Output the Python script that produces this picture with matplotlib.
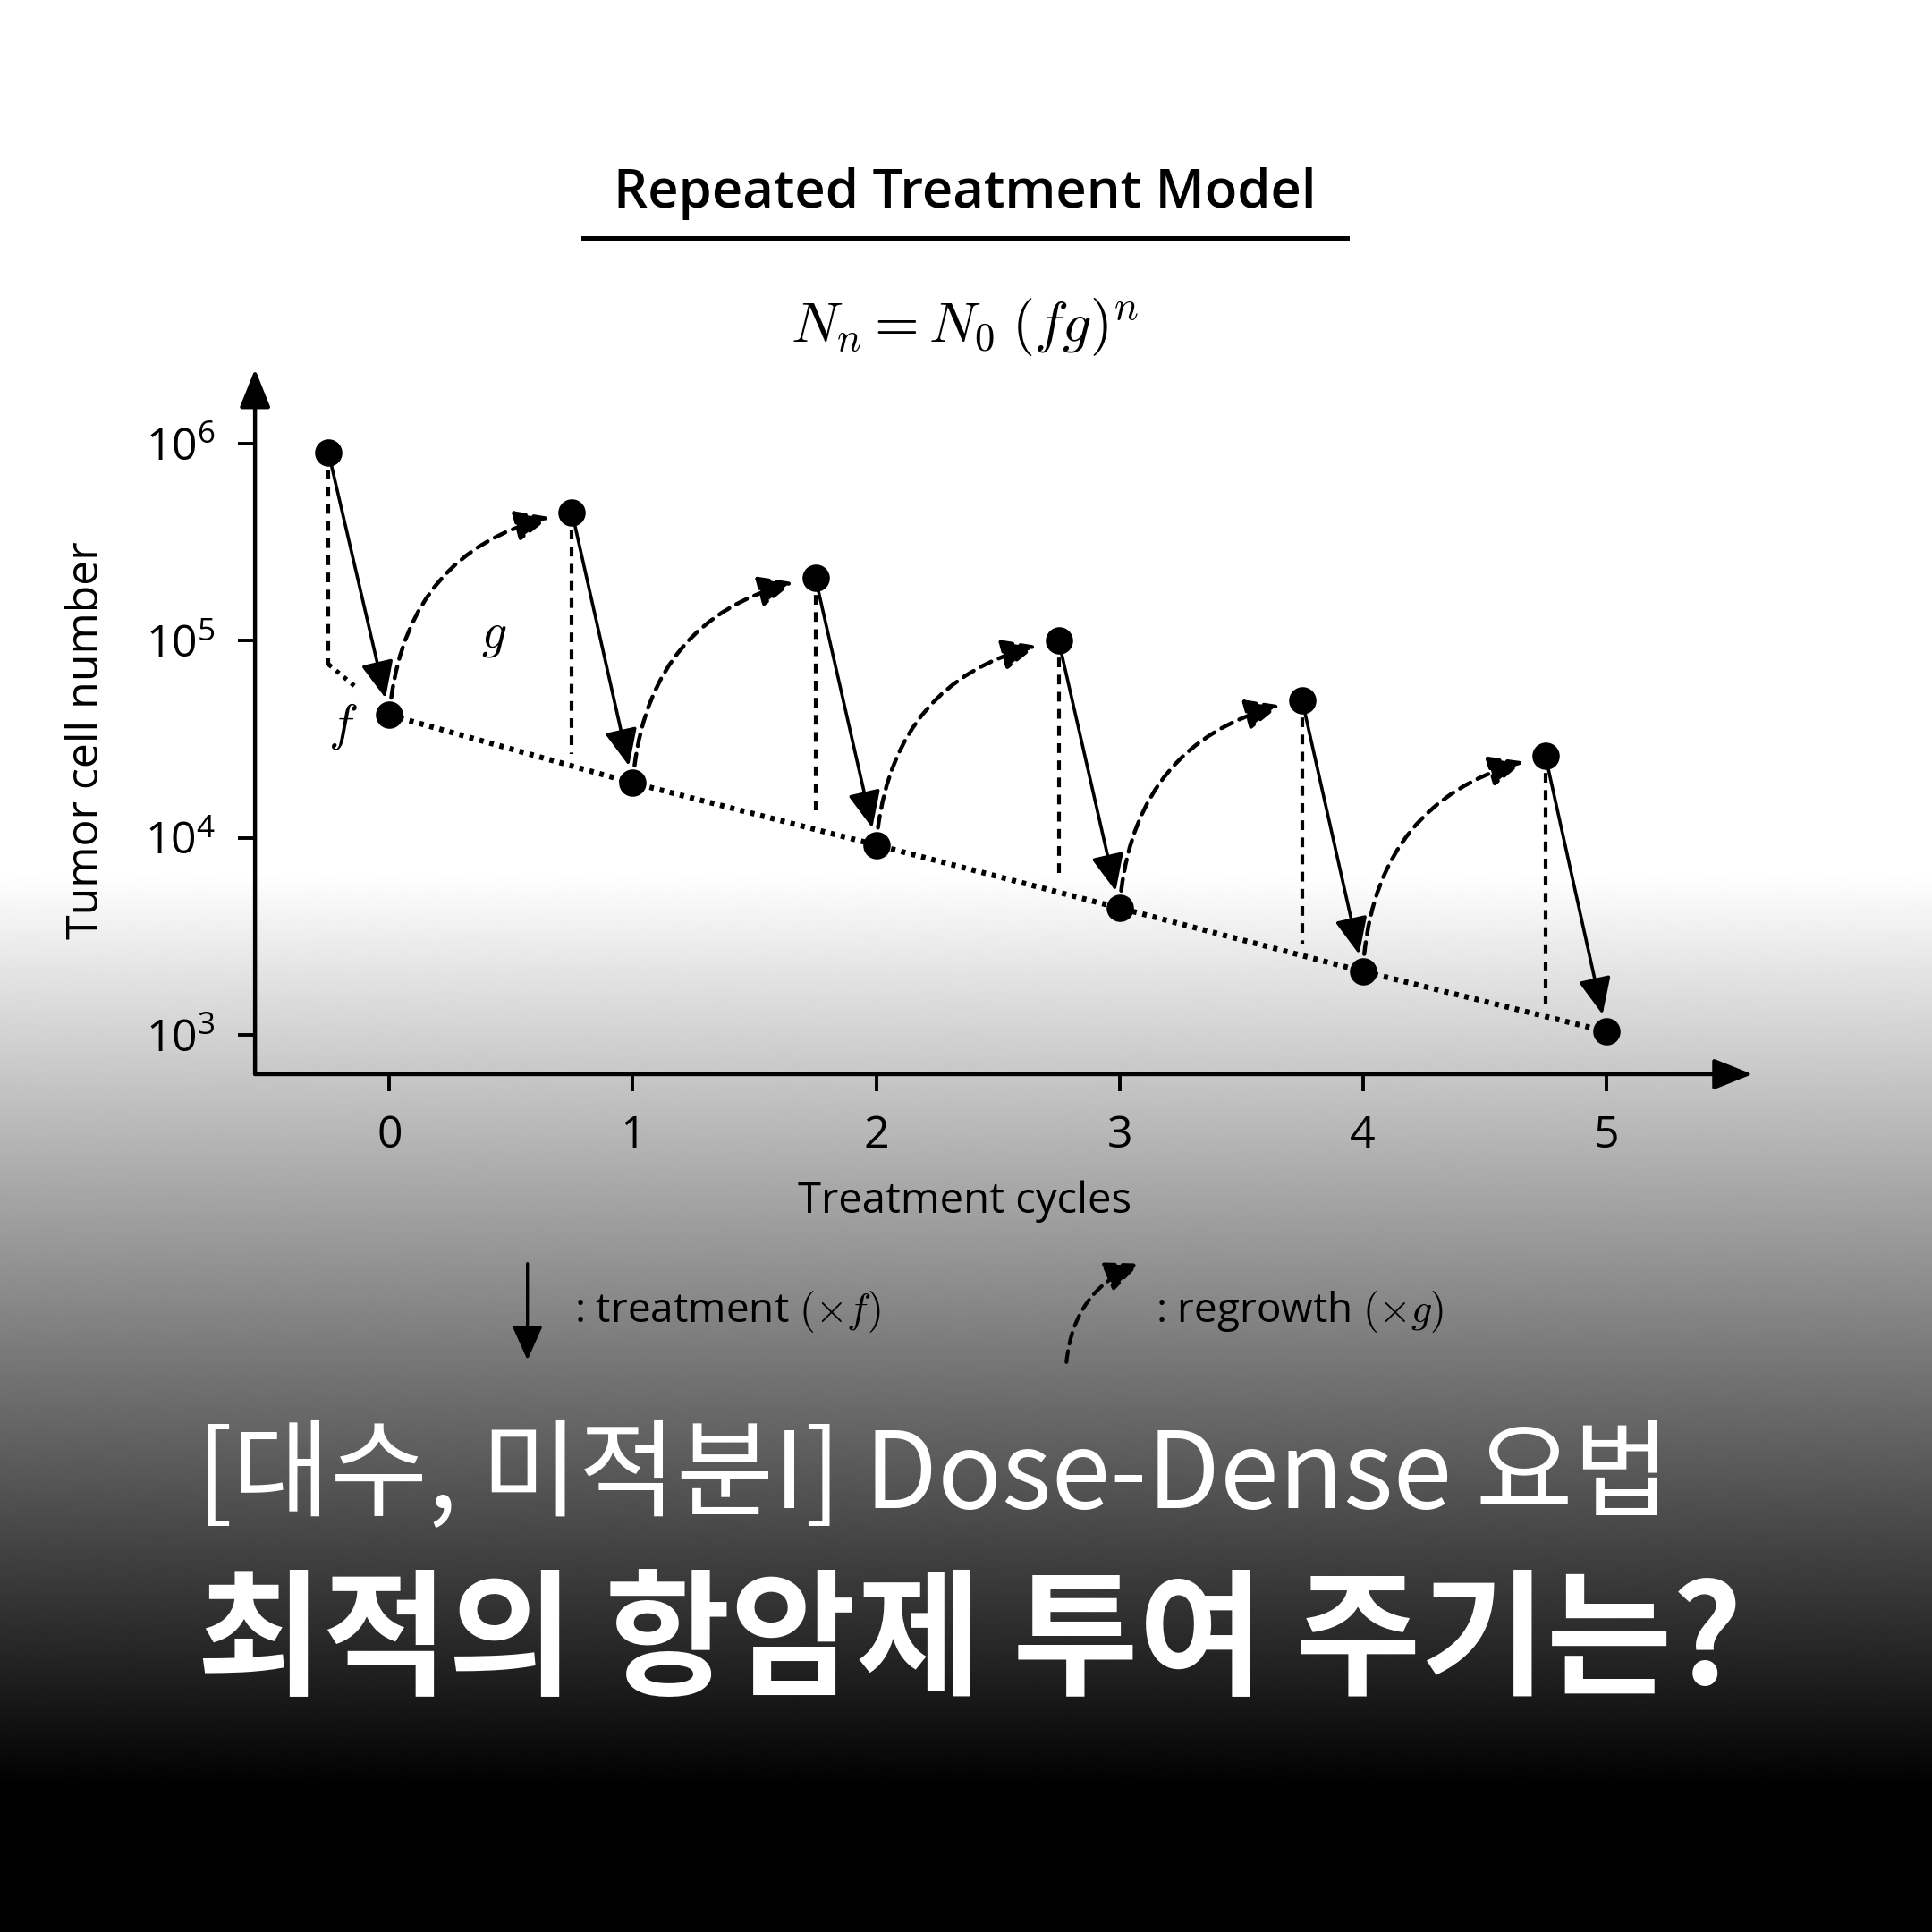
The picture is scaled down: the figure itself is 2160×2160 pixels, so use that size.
import numpy as np
import matplotlib.pyplot as plt
from matplotlib.lines import Line2D
from matplotlib.patches import FancyArrowPatch
from matplotlib.ticker import NullLocator

plt.rcParams['font.family'] = ['Open Sans', 'Noto Sans CJK KR', 'DejaVu Sans']
plt.rcParams['mathtext.fontset'] = 'cm'

# data
cycles = [0, 1, 2, 3, 4, 5]
after_treat = [4.2e4, 1.9e4, 9.2e3, 4.4e3, 2.1e3, 1.04e3]
regrow_x = [-0.25, 0.75, 1.75, 2.75, 3.75, 4.75]
before_treat = [9.0e5, 4.5e5, 2.1e5, 1.0e5, 5.0e4, 2.6e4]
first_drop_end = 7.6e4

y_ticks = [1e3, 1e4, 1e5, 1e6]
y_ticklabels = [r'$\mathregular{10^3}$', r'$\mathregular{10^4}$',
                r'$\mathregular{10^5}$', r'$\mathregular{10^6}$']
x_ticklabels = ['0', '1', '2', '3', '4', '5']

title = 'Repeated Treatment Model'
formula = r'$N_n = N_0\;(fg)^n$'
line1 = '[대수, 미적분I] Dose-Dense 요법'
line2 = '최적의 항암제 투여 주기는?'

fig = plt.figure(figsize=(10.8, 10.8), dpi=200)

# white -> black background
bg = fig.add_axes([0, 0, 1, 1], zorder=-5)
rows = np.arange(2160)
shade = np.clip(1 - (rows - 978) / (2000 - 978), 0, 1)
bg.imshow(shade[:, None], cmap='gray', vmin=0, vmax=1, aspect='auto',
          extent=[0, 1, 0, 1], interpolation='bilinear')
bg.axis('off')

ax = fig.add_axes([0.132, 0.444, 0.775, 0.365])
ax.set_facecolor('none')
ax.set_yscale('log')
ax.set_xlim(-0.552, 5.6)
ax.set_ylim(10 ** 2.8, 10 ** 6.38)
for s in ax.spines.values():
    s.set_visible(False)

# axis lines with arrow heads
ax.annotate('', xy=(0, 1), xytext=(0, 0), xycoords='axes fraction',
            arrowprops=dict(arrowstyle='-|>,head_length=0.55,head_width=0.22',
                            mutation_scale=24, lw=1.6, color='k', shrinkA=0, shrinkB=0))
ax.annotate('', xy=(1, 0), xytext=(0, 0), xycoords='axes fraction',
            arrowprops=dict(arrowstyle='-|>,head_length=0.55,head_width=0.22',
                            mutation_scale=24, lw=1.6, color='k', shrinkA=0, shrinkB=0))

ax.set_xticks(cycles)
ax.set_xticklabels(x_ticklabels)
ax.set_yticks(y_ticks)
ax.set_yticklabels(y_ticklabels)
ax.yaxis.set_minor_locator(NullLocator())
ax.tick_params(direction='out', length=7, width=1.4, labelsize=18, pad=9)

# dotted trend through post-treatment points
ax.plot(cycles, after_treat, color='k', lw=2.2, linestyle=(0, (0.8, 1.1)), zorder=2)

# vertical drop lines
dash = (0, (2.6, 2.0))
for i in range(1, 6):
    lvl = after_treat[i - 1] * (after_treat[i] / after_treat[i - 1]) ** 0.75 * 1.15
    ax.plot([regrow_x[i], regrow_x[i]], [before_treat[i], lvl], color='k', lw=1.5,
            linestyle=dash, zorder=2)
ax.plot([regrow_x[0], regrow_x[0]], [before_treat[0], first_drop_end], color='k',
        lw=1.5, linestyle=dash, zorder=2)
x_end = regrow_x[0] + 0.45 * (cycles[0] - regrow_x[0])
y_end = first_drop_end * (after_treat[0] / first_drop_end) ** 0.45
ax.plot([regrow_x[0], x_end], [first_drop_end, y_end], color='k', lw=1.8,
        linestyle=(0, (0.9, 1.3)), zorder=2)

# treatment arrows
for i in range(6):
    ax.annotate('', xy=(cycles[i], after_treat[i]), xytext=(regrow_x[i], before_treat[i]),
                arrowprops=dict(arrowstyle='-|>,head_length=0.45,head_width=0.2',
                                mutation_scale=28, lw=1.3, color='k',
                                shrinkA=4, shrinkB=7))

# regrowth arrows
for i in range(5):
    ax.annotate('', xy=(regrow_x[i + 1], before_treat[i + 1]), xytext=(cycles[i], after_treat[i]),
                arrowprops=dict(arrowstyle='-|>,head_length=0.45,head_width=0.2',
                                mutation_scale=26, lw=1.6, color='k',
                                linestyle=(0, (3, 2)),
                                connectionstyle='arc3,rad=-0.38',
                                shrinkA=7, shrinkB=9))

ax.plot(cycles, after_treat, 'o', ms=10, color='k', zorder=5)
ax.plot(regrow_x, before_treat, 'o', ms=10, color='k', zorder=5)

ax.text(-0.19, 10 ** 4.565, '$f$', fontsize=20, ha='center', va='center')
ax.text(0.43, 10 ** 5.035, '$g$', fontsize=20, ha='center', va='center')

# titles and labels
fig.text(0.4995, 0.9, title, fontsize=21.5, ha='center', va='center', weight='semibold')
fig.add_artist(Line2D([0.302, 0.697], [0.877, 0.877], lw=1.8, color='k'))
fig.text(0.4995, 0.831, formula, fontsize=23, ha='center', va='center')
fig.text(0.045, 0.617, 'Tumor cell number', fontsize=18, rotation=90,
         ha='center', va='center')
fig.text(0.4995, 0.378, 'Treatment cycles', fontsize=17, ha='center', va='center')

# legend
fig.add_artist(FancyArrowPatch((0.273, 0.346), (0.273, 0.296), transform=fig.transFigure,
                               arrowstyle='-|>,head_length=0.45,head_width=0.2',
                               mutation_scale=26, lw=1.2, color='k',
                               shrinkA=0, shrinkB=0))
fig.text(0.297, 0.321, r': treatment $(\times f)$', fontsize=16.5, va='center')
fig.add_artist(FancyArrowPatch((0.552, 0.295), (0.590, 0.346), transform=fig.transFigure,
                               arrowstyle='-|>,head_length=0.45,head_width=0.2',
                               mutation_scale=26, lw=1.5, color='k',
                               linestyle=(0, (3, 2)),
                               connectionstyle='arc3,rad=-0.3',
                               shrinkA=0, shrinkB=0))
fig.text(0.598, 0.321, r': regrowth $(\times g)$', fontsize=16.5, va='center')

# headline
fig.text(0.102, 0.235, line1, color='white', fontsize=42.7, va='center',
         family=['Noto Sans CJK KR', 'DejaVu Sans'])
fig.text(0.102, 0.149, line2, color='white', fontsize=55, va='center', weight='bold',
         family=['Noto Sans CJK KR', 'DejaVu Sans'])

fig.savefig('out.png', dpi=200)
